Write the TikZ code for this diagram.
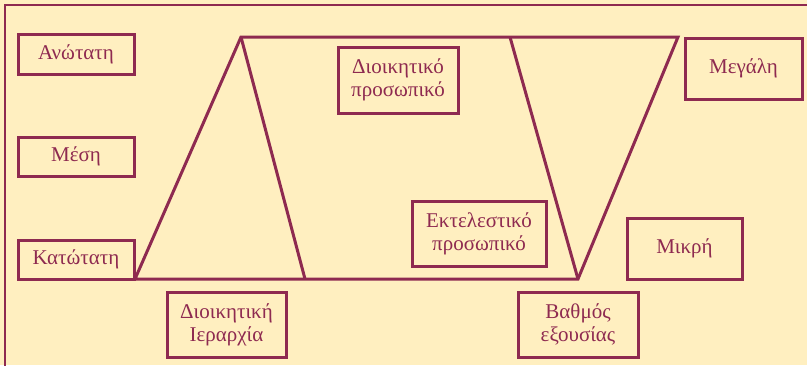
\documentclass[tikz,border=0pt]{standalone}
\usepackage{fontspec}
\setmainfont{Liberation Serif}
\definecolor{bg}{HTML}{FFEFC0}
\definecolor{mar}{HTML}{8E2A50}
\begin{document}
\begin{tikzpicture}[x=1pt,y=-1pt,
  lbl/.style={draw=mar,line width=3pt,text=mar,font=\fontsize{21}{23}\selectfont,align=center,inner sep=0pt,anchor=center},
  shp/.style={draw=mar,line width=3pt,line join=miter}]
\fill[bg] (0,0) rectangle (807,365);
\useasboundingbox (0,0) rectangle (807,365);
% frame
\draw[mar,line width=2.6pt] (5,370) -- (5,5) -- (812,5);
% shape
\coordinate (A) at (135,279);
\coordinate (B) at (241,37);
\coordinate (C) at (678,37);
\coordinate (D) at (578,279);
\coordinate (E) at (305,279);
\coordinate (F) at (510,37);
\draw[shp] (A) -- (B) -- (C) -- (D) -- cycle;
\draw[shp] (B) -- (E);
\draw[shp] (F) -- (D);
% labels
\node[lbl,minimum width=116pt,minimum height=40pt] (anot) at (76,54) {Ανώτατη};
\node[lbl,minimum width=116pt,minimum height=39pt] (mesi) at (76,156.5) {Μέση};
\node[lbl,minimum width=116pt,minimum height=39pt] (kat) at (76,259.5) {Κατώτατη};
\node[lbl,minimum width=120pt,minimum height=66pt] (dp) at (398,80) {Διοικητικό\\προσωπικό};
\node[lbl,minimum width=117pt,minimum height=61pt] (meg) at (743.5,68.5) {Μεγάλη};
\node[lbl,minimum width=134pt,minimum height=65pt] (ep) at (479,233.5) {Εκτελεστικό\\προσωπικό};
\node[lbl,minimum width=115pt,minimum height=61pt] (mik) at (684.5,248.5) {Μικρή};
\node[lbl,minimum width=120pt,minimum height=65pt] (vath) at (578,324.5) {Βαθμός\\εξουσίας};
\node[lbl,minimum width=119pt,minimum height=65pt] (ier) at (226.5,324.5) {Διοικητική\\Ιεραρχία};
\end{tikzpicture}
\end{document}
